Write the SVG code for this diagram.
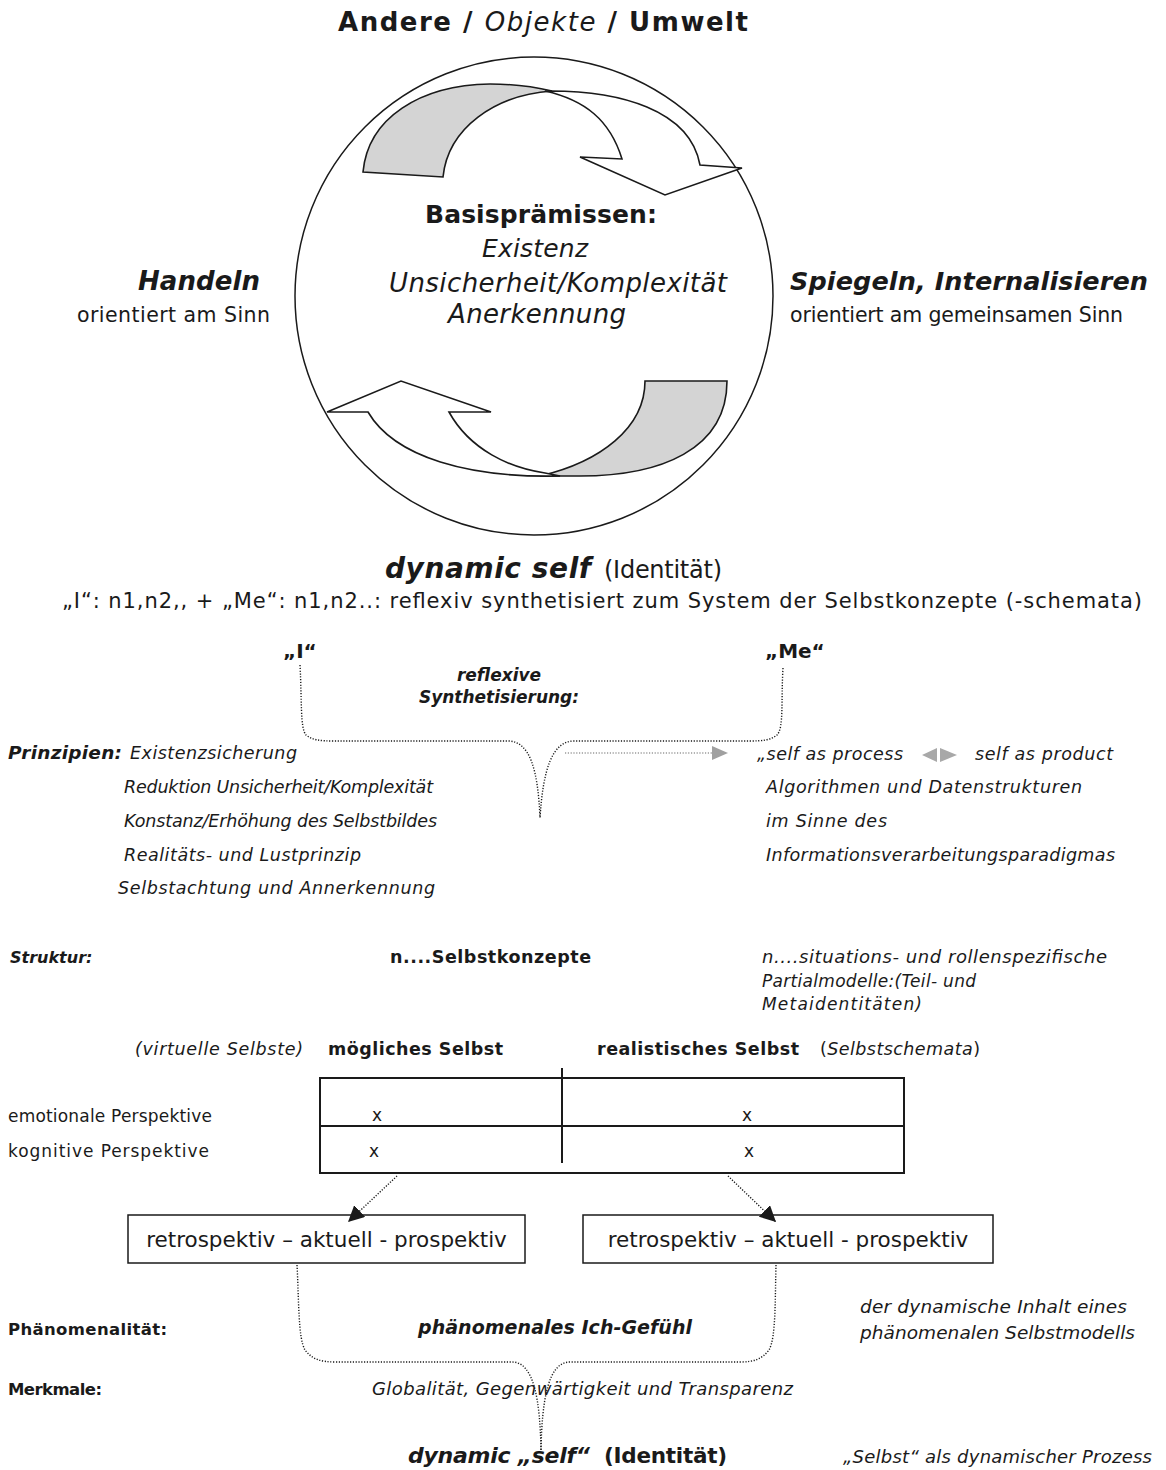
<svg xmlns="http://www.w3.org/2000/svg" width="1166" height="1470" viewBox="0 0 1166 1470">
  <defs>
    <style>
      text { font-family: "DejaVu Sans", Verdana, sans-serif; fill: #1a1a1a; }
      .b { font-weight: bold; }
      .i { font-style: italic; }
      .line { fill: none; stroke: #1a1a1a; stroke-width: 1.5; }
      .box { fill: #fff; stroke: #1a1a1a; stroke-width: 1.5; }
      .tbl { fill: none; stroke: #1a1a1a; stroke-width: 2; }
      .dots { fill: none; stroke: #1a1a1a; stroke-width: 1.4; stroke-dasharray: 1.2 1.6; }
      .gdots { fill: none; stroke: #9a9a9a; stroke-width: 1.4; stroke-dasharray: 1.2 1.6; }
      .ribbon { stroke: #1a1a1a; stroke-width: 1.6; stroke-linejoin: miter; }
    </style>
    <marker id="tri" viewBox="0 0 10 10" refX="10" refY="5" markerWidth="16" markerHeight="16" markerUnits="userSpaceOnUse" orient="auto">
      <path d="M0,0 L10,5 L0,10 Z" fill="#1a1a1a"/>
    </marker>
  </defs>
  <rect width="1166" height="1470" fill="#fff"/>

  <!-- heading -->
  <g id="heading">
    <text x="338" y="31" font-size="26" class="b" textLength="410">Andere / <tspan class="i" font-weight="normal">Objekte</tspan> / Umwelt</text>
  </g>

  <!-- cycle circle with the two ribbon arrows -->
  <g id="cycle">
    <circle cx="534" cy="296" r="239" class="line"/>
    <path class="ribbon" fill="#d4d4d4" d="M363,172 C368,118 420,85 490,84 C515,84 535,87 552,91 C495,95 448,128 443,177 Z"/>
    <path class="ribbon" fill="#fff" d="M545,91 C620,90 690,110 700,165 L742,168 L665,195 L580,157 L622,159 C610,120 585,100 545,91 Z"/>
    <path class="ribbon" fill="#d4d4d4" d="M645,381 L727,381 C727,450 660,476 580,476 L540,476 C600,462 645,428 645,381 Z"/>
    <path class="ribbon" fill="#fff" d="M560,476 C470,478 395,458 368,412 L327,412 L401,381 L491,412 L449,412 C470,450 510,468 545,473 Z"/>
    <text x="425" y="223" font-size="25" class="b" textLength="232">Basisprämissen:</text>
    <text x="482" y="257" font-size="25" class="i" textLength="106">Existenz</text>
    <text x="389" y="292" font-size="26" class="i" textLength="338">Unsicherheit/Komplexität</text>
    <text x="448" y="323" font-size="26" class="i" textLength="178">Anerkennung</text>
  </g>

  <g id="handeln">
    <text x="138" y="290" font-size="26" class="b i" textLength="122">Handeln</text>
    <text x="77" y="322" font-size="20.5" textLength="193">orientiert am Sinn</text>
  </g>

  <g id="spiegeln">
    <text x="790" y="290" font-size="25.5" class="b i" textLength="358">Spiegeln, Internalisieren</text>
    <text x="790" y="322" font-size="20.5" textLength="333">orientiert am gemeinsamen Sinn</text>
  </g>

  <g id="dynamic-self">
    <text x="385" y="578" font-size="28" class="b i" textLength="206">dynamic self</text>
    <text x="604" y="578" font-size="24" textLength="118">(Identität)</text>
    <text x="62" y="608" font-size="21" textLength="1080">„I“: n1,n2,, + „Me“: n1,n2..: reflexiv synthetisiert zum System der Selbstkonzepte (-schemata)</text>
  </g>

  <!-- I / Me and the reflexive synthesis -->
  <g id="i-me">
    <text x="283" y="658" font-size="20" class="b">„I“</text>
    <text x="765" y="658" font-size="20" class="b">„Me“</text>
    <text x="499" y="681" font-size="17" class="b i" text-anchor="middle">reflexive</text>
    <text x="499" y="703" font-size="17" class="b i" text-anchor="middle">Synthetisierung:</text>
  </g>

  <g id="prinzipien">
    <text x="8" y="759" font-size="18.5" class="b i" textLength="114">Prinzipien:</text>
    <text x="130" y="759" font-size="17.5" class="i" textLength="167">Existenzsicherung</text>
    <text x="124" y="793" font-size="17.5" class="i" textLength="309">Reduktion Unsicherheit/Komplexität</text>
    <text x="124" y="827" font-size="17.5" class="i" textLength="313">Konstanz/Erhöhung des Selbstbildes</text>
    <text x="124" y="861" font-size="17.5" class="i" textLength="237">Realitäts- und Lustprinzip</text>
    <text x="118" y="894" font-size="17.5" class="i" textLength="317">Selbstachtung und Annerkennung</text>
  </g>

  <g id="process-product">
    <text x="757" y="760" font-size="17.5" class="i" textLength="146">„self as process</text>
    <path d="M922,755 L937,748 L937,762 Z" fill="#a8a8a8"/>
    <path d="M957,755 L940,748 L940,762 Z" fill="#a8a8a8"/>
    <text x="975" y="760" font-size="17.5" class="i" textLength="138">self as product</text>
    <text x="766" y="793" font-size="17.5" class="i" textLength="316">Algorithmen und Datenstrukturen</text>
    <text x="766" y="827" font-size="17.5" class="i" textLength="121">im Sinne des</text>
    <text x="766" y="861" font-size="17.5" class="i" textLength="349">Informationsverarbeitungsparadigmas</text>
  </g>

  <g id="struktur">
    <text x="10" y="963" font-size="16" class="b i">Struktur:</text>
    <text x="390" y="963" font-size="17.5" class="b" textLength="201">n....Selbstkonzepte</text>
    <text x="762" y="963" font-size="18" class="i" textLength="345">n....situations- und rollenspezifische</text>
    <text x="762" y="987" font-size="17" class="i" textLength="214">Partialmodelle:(Teil- und</text>
    <text x="762" y="1010" font-size="17" class="i" textLength="160">Metaidentitäten)</text>
  </g>

  <!-- possible / realistic self table -->
  <g id="selbst-table">
    <text x="135" y="1055" font-size="17.5" class="i" textLength="168">(virtuelle Selbste)</text>
    <text x="328" y="1055" font-size="17.5" class="b" textLength="175">mögliches Selbst</text>
    <text x="597" y="1055" font-size="17.5" class="b" textLength="202">realistisches Selbst</text>
    <text x="820" y="1055" font-size="17.5" textLength="160">(<tspan class="i">Selbstschemata</tspan>)</text>
    <rect x="320" y="1078" width="584" height="95" class="tbl"/>
    <line x1="320" y1="1126" x2="904" y2="1126" class="tbl"/>
    <line x1="562" y1="1068" x2="562" y2="1163" class="tbl"/>
    <text x="8" y="1122" font-size="17" textLength="204">emotionale Perspektive</text>
    <text x="8" y="1157" font-size="17" textLength="201">kognitive Perspektive</text>
    <text x="372" y="1121" font-size="17">x</text>
    <text x="742" y="1121" font-size="17">x</text>
    <text x="369" y="1157" font-size="17">x</text>
    <text x="744" y="1157" font-size="17">x</text>
  </g>

  <g id="zeit-links">
    <rect x="128" y="1215" width="397" height="48" class="box"/>
    <text x="326.5" y="1247" font-size="21.5" text-anchor="middle">retrospektiv – aktuell - prospektiv</text>
  </g>
  <g id="zeit-rechts">
    <rect x="583" y="1215" width="410" height="48" class="box"/>
    <text x="788" y="1247" font-size="21.5" text-anchor="middle">retrospektiv – aktuell - prospektiv</text>
  </g>

  <g id="phaenomenal">
    <text x="8" y="1335" font-size="16.5" class="b" textLength="159">Phänomenalität:</text>
    <text x="418" y="1334" font-size="19" class="b i" textLength="274">phänomenales Ich-Gefühl</text>
    <text x="860" y="1313" font-size="18.5" class="i" textLength="267">der dynamische Inhalt eines</text>
    <text x="860" y="1339" font-size="18.5" class="i" textLength="275">phänomenalen Selbstmodells</text>
    <text x="8" y="1395" font-size="16.5" class="b" textLength="94">Merkmale:</text>
    <text x="372" y="1395" font-size="18" class="i" textLength="421">Globalität, Gegenwärtigkeit und Transparenz</text>
  </g>

  <g id="dynamic-self-bottom">
    <text x="408" y="1463" font-size="22" class="b i" textLength="182">dynamic „self“</text>
    <text x="604" y="1463" font-size="21.5" class="b" textLength="123">(Identität)</text>
    <text x="843" y="1463" font-size="18" class="i" textLength="309">„Selbst“ als dynamischer Prozess</text>
  </g>

  <!-- connectors: dotted braces and arrows -->
  <g id="connectors">
    <path class="dots" d="M300,665 C302,700 300,728 306,735 C312,740 320,741 334,741 L508,741 C530,741 538,770 540,818"/>
    <path class="dots" d="M783,668 C781,700 784,728 777,735 C771,740 763,741 750,741 L574,741 C552,741 543,770 540,818"/>
    <line class="gdots" x1="565" y1="753" x2="712" y2="753"/>
    <path d="M712,746 L728,753 L712,760 Z" fill="#a0a0a0"/>
    <line class="dots" x1="397" y1="1176" x2="348" y2="1222" marker-end="url(#tri)"/>
    <line class="dots" x1="728" y1="1176" x2="776" y2="1222" marker-end="url(#tri)"/>
    <path class="dots" d="M297,1265 C299,1300 298,1338 305,1350 C312,1359 320,1362 336,1362 L512,1362 C534,1362 540,1400 541,1450"/>
    <path class="dots" d="M776,1265 C775,1300 776,1338 769,1350 C762,1359 754,1362 740,1362 L570,1362 C548,1362 542,1400 541,1450"/>
  </g>
</svg>
